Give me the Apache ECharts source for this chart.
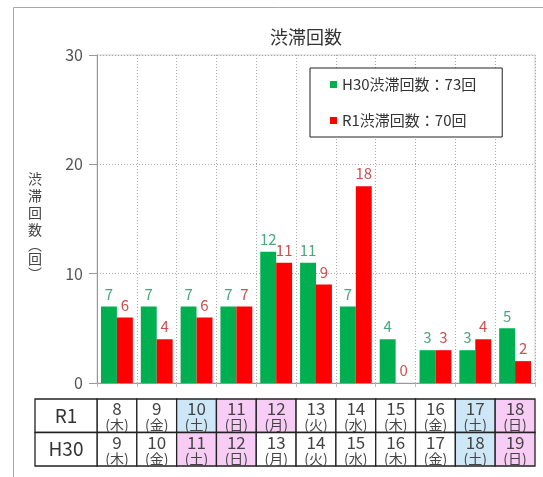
<!DOCTYPE html>
<html>
<head>
<meta charset="utf-8">
<script src="https://cdn.jsdelivr.net/npm/echarts@6/dist/echarts.min.js"></script>
<style>html,body{margin:0;padding:0;background:#fff;}#c{width:543px;height:477px;}</style>
</head>
<body>
<div id="c"></div>
<script>
// ---- data ----
const categories = ['8','9','10','11','12','13','14','15','16','17','18'];
const h30Values = [7, 7, 7, 7, 12, 11, 7, 4, 3, 3, 5];
const r1Values  = [6, 4, 6, 7, 11, 9, 18, 0, 3, 4, 2];
const h30Name = 'H30渋滞回数：73回';
const r1Name  = 'R1渋滞回数：70回';
const yTicks = [0, 10, 20, 30];
const tableRows = ['R1', 'H30'];
const r1Dates  = ['8','9','10','11','12','13','14','15','16','17','18'];
const r1Days   = ['木','金','土','日','月','火','水','木','金','土','日'];
const r1Kind   = ['', '', 'sat', 'hol', 'hol', '', '', '', '', 'sat', 'hol'];
const h30Dates = ['9','10','11','12','13','14','15','16','17','18','19'];
const h30Days  = ['木','金','土','日','月','火','水','木','金','土','日'];
const h30Kind  = ['', '', 'hol', 'hol', '', '', '', '', '', 'sat', 'hol'];

const FONT = '"Noto Sans CJK JP", "Noto Sans", sans-serif';
const kindColor = { '': '#ffffff', sat: '#cde7f7', hol: '#f8cdf5' };

const tableData = [];
r1Dates.forEach((d, i) => tableData.push([i, 0, d, r1Days[i], r1Kind[i]]));
h30Dates.forEach((d, i) => tableData.push([i, 1, d, h30Days[i], h30Kind[i]]));
const headerData = tableRows.map((r, i) => [0, i, r]);

const chart = echarts.init(document.getElementById('c'));
chart.setOption({
  animation: false,
  textStyle: { fontFamily: FONT },
  title: {
    text: '渋滞回数',
    left: 265, top: 23,
    textStyle: { fontSize: 18, fontWeight: 'normal', color: '#333', fontFamily: FONT }
  },
  legend: {
    data: [h30Name, r1Name],
    orient: 'vertical',
    left: 310, top: 68,
    padding: [9, 26, 9, 20],
    itemGap: 21,
    itemWidth: 7, itemHeight: 7,
    icon: 'rect',
    borderColor: '#222', borderWidth: 1,
    backgroundColor: '#fff',
    textStyle: { fontSize: 15, color: '#333', fontFamily: FONT }
  },
  graphic: [{
    type: 'polyline', silent: true, z: -10,
    shape: { points: [[13.5, 600], [13.5, 7.5], [600, 7.5]] },
    style: { fill: 'none', stroke: '#a8a8a8', lineWidth: 1 }
  }],
  grid: [
    { left: 97, right: 8, top: 55, bottom: 94, show: true, borderColor: '#d0d0d0', borderWidth: 1 },
    { left: 97, right: 8, top: 399, height: 67 }
  ],
  xAxis: [
    {
      type: 'category', data: categories, gridIndex: 0,
      axisLine: { lineStyle: { color: '#999' } },
      axisTick: { show: true, length: 4, lineStyle: { color: '#bbb' } },
      axisLabel: { show: false },
      splitLine: { show: true, interval: 0, lineStyle: { color: '#aaa', type: [1, 2] } }
    },
    {
      type: 'category', data: categories, gridIndex: 1,
      axisLine: { show: false }, axisTick: { show: false }, axisLabel: { show: false }
    }
  ],
  yAxis: [
    {
      type: 'value', gridIndex: 0, min: 0, max: 30, interval: 10,
      name: '{c|渋}\n{c|滞}\n{c|回}\n{c|数}\n{p|︵}\n{c|回}\n{p|︶}',
      nameLocation: 'middle', nameRotate: 0, nameGap: 55,
      nameTextStyle: {
        fontSize: 14, color: '#444', fontFamily: FONT, padding: [12, 0, 0, 0],
        rich: {
          c: { fontSize: 14, lineHeight: 17, color: '#444', fontFamily: FONT },
          p: { fontSize: 14, lineHeight: 12, color: '#444', fontFamily: FONT }
        }
      },
      axisLine: { show: true, lineStyle: { color: '#999' } },
      axisTick: { show: true, length: 8, lineStyle: { color: '#999' } },
      axisLabel: { fontSize: 16, color: '#555', margin: 14, fontFamily: FONT },
      splitLine: { show: true, lineStyle: { color: '#aaa', type: [1, 2] } }
    },
    {
      type: 'category', gridIndex: 1, data: tableRows, inverse: true,
      axisLine: { show: false }, axisTick: { show: false }, axisLabel: { show: false }
    }
  ],
  series: [
    {
      name: h30Name, type: 'bar', data: h30Values,
      xAxisIndex: 0, yAxisIndex: 0,
      barGap: '0%', barCategoryGap: '20%',
      itemStyle: { color: '#00b050' },
      label: { show: true, position: 'top', distance: 5, fontSize: 15, color: '#49a77a', fontFamily: FONT }
    },
    {
      name: r1Name, type: 'bar', data: r1Values,
      xAxisIndex: 0, yAxisIndex: 0,
      barGap: '0%', barCategoryGap: '20%',
      itemStyle: { color: '#ff0000' },
      label: { show: true, position: 'top', distance: 5, fontSize: 15, color: '#c9524f', fontFamily: FONT }
    },
    {
      type: 'custom', xAxisIndex: 1, yAxisIndex: 1,
      data: tableData, silent: true,
      renderItem: function (params, api) {
        const c = api.coord([api.value(0), api.value(1)]);
        const s = api.size([1, 1]);
        const x0 = c[0] - s[0] / 2, y0 = c[1] - s[1] / 2;
        const kind = api.value(4);
        return {
          type: 'group',
          children: [
            { type: 'rect', shape: { x: x0, y: y0, width: s[0], height: s[1] },
              style: { fill: kindColor[kind] || '#fff', stroke: '#222', lineWidth: 1.3 } },
            { type: 'text', style: { x: c[0], y: y0 + 10, text: api.value(2), align: 'center', verticalAlign: 'middle',
              fontSize: 17, fill: '#444', fontFamily: FONT } },
            { type: 'text', style: { x: c[0], y: y0 + 26, text: '(' + api.value(3) + ')', align: 'center', verticalAlign: 'middle',
              fontSize: 14, fill: '#444', fontFamily: FONT } }
          ]
        };
      }
    },
    {
      type: 'custom', xAxisIndex: 1, yAxisIndex: 1,
      data: headerData, silent: true,
      renderItem: function (params, api) {
        const c = api.coord([api.value(0), api.value(1)]);
        const s = api.size([1, 1]);
        const x1 = c[0] - s[0] / 2, y0 = c[1] - s[1] / 2;
        const w = 62;
        return {
          type: 'group',
          children: [
            { type: 'rect', shape: { x: x1 - w, y: y0, width: w, height: s[1] },
              style: { fill: '#fff', stroke: '#222', lineWidth: 1.3 } },
            { type: 'text', style: { x: x1 - w / 2, y: c[1], text: api.value(2), align: 'center', verticalAlign: 'middle',
              fontSize: 19, fill: '#333', fontFamily: FONT } }
          ]
        };
      }
    }
  ]
});
</script>
</body>
</html>
